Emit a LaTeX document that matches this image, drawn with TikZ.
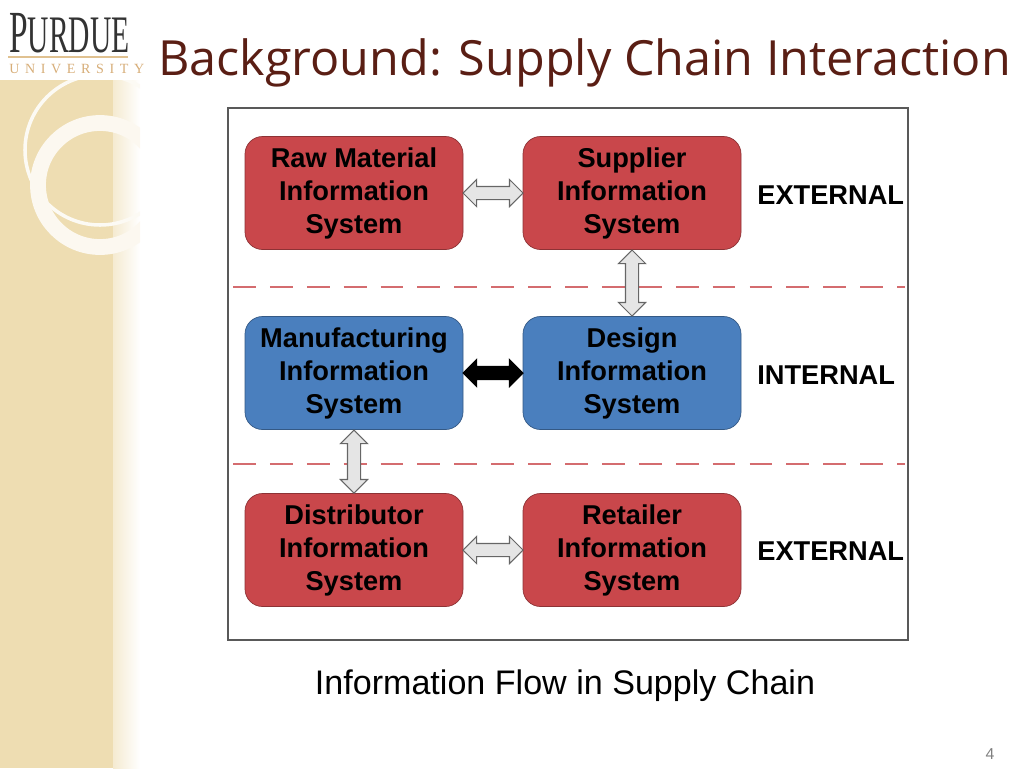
\documentclass[tikz,border=0pt]{standalone}
\usepackage{fontspec}
\setmainfont{Liberation Sans}
\newfontfamily\titlefont{Open Sans}
\newfontfamily\logofont{Liberation Serif}
\usetikzlibrary{positioning,calc,shapes.arrows}
\definecolor{boxred}{HTML}{C9474B}
\definecolor{boxblue}{HTML}{4A7FBE}
\definecolor{sidebeige}{HTML}{EEDDB2}
\definecolor{titlebrown}{HTML}{5A1E14}
\tikzset{
  sysbox/.style={draw=#1!70!black,fill=#1,rounded corners=10pt,minimum width=218*0.02cm,minimum height=113*0.02cm,
    align=center,font=\fontsize{15.5}{18.8}\selectfont\bfseries,inner sep=0pt},
  flowarrow/.style={double arrow,draw=gray!80!black,fill=gray!20,minimum height=60*0.02cm,
    text height=0.24cm,text depth=0pt,text width=0pt,
    double arrow head extend=0.14cm,inner sep=0pt,line width=0.6pt},
  vflowarrow/.style={flowarrow,shape border rotate=90,text height=0pt,text width=0.24cm},
  zonelabel/.style={anchor=west,font=\fontsize{15.5}{18}\selectfont\bfseries,inner sep=0pt},
}
\begin{document}
\begin{tikzpicture}[x=0.02cm,y=-0.02cm]
		\useasboundingbox (0,0) rectangle (1024,768);
		% sidebar
		\fill[sidebeige] (0,80) rectangle (113,768);
		\shade[left color=sidebeige!60,right color=white] (113,80) rectangle (140,768);
		\begin{scope}
		\clip (0,80) rectangle (140,768);
		\draw[white!85!sidebeige,line width=2pt] (100,150) circle (75);
		\draw[white!80!sidebeige,line width=9pt] (100,185) circle (62);
		\end{scope}
		% logo
		\node[anchor=base west,inner sep=0pt,xscale=0.56,text=black!80,font=\logofont\fontsize{34}{34}\selectfont] (purdue) at (9,52) {P\fontsize{30}{30}\selectfont URDUE};
		\draw[sidebeige!70!brown,line width=0.8pt] (8,57) -- (128,57);
		\node[anchor=base west,inner sep=0pt,font=\logofont\fontsize{8}{8}\selectfont,text=sidebeige!50!brown] (univ) at (9,73) {U\hspace{3.2pt}N\hspace{3.2pt}I\hspace{3.2pt}V\hspace{3.2pt}E\hspace{3.2pt}R\hspace{3.2pt}S\hspace{3.2pt}I\hspace{3.2pt}T\hspace{3.2pt}Y};
		% title
		\node[anchor=base west,inner sep=0pt,text=titlebrown,font=\titlefont\fontsize{27.6}{30}\selectfont] (title) at (158,75) {Background: Supply Chain Interaction};
		% frame
		\draw[gray!70!black,line width=1.2pt] (228,108) rectangle (908,640);
		% zone separators
		\draw[boxred!80,dashed,dash pattern=on 13pt off 8pt,line width=1.1pt] (233,287) -- (905,287);
		\draw[boxred!80,dashed,dash pattern=on 13pt off 8pt,line width=1.1pt] (233,464) -- (905,464);
		% systems
		\node[sysbox=boxred] (raw) at (354,193) {Raw Material\\Information\\System};
		\node[sysbox=boxred] (supplier) at (632,193) {Supplier\\Information\\System};
		\node[sysbox=boxblue] (manuf) at (354,373) {Manufacturing\\Information\\System};
		\node[sysbox=boxblue] (design) at (632,373) {Design\\Information\\System};
		\node[sysbox=boxred] (distrib) at (354,550) {Distributor\\Information\\System};
		\node[sysbox=boxred] (retail) at (632,550) {Retailer\\Information\\System};
		% zones
		\node[zonelabel] (ext1) at (757,195) {EXTERNAL};
		\node[zonelabel] (int) at (757,375) {INTERNAL};
		\node[zonelabel] (ext2) at (757,551) {EXTERNAL};
		% flows
		\node[flowarrow] (a1) at ($(raw.east)!0.5!(supplier.west)$) {};
		\node[vflowarrow,minimum height=66*0.02cm] (a2) at ($(supplier.south)!0.5!(design.north)$) {};
		\node[flowarrow,draw=black,fill=black] (a3) at ($(manuf.east)!0.5!(design.west)$) {};
		\node[vflowarrow,minimum height=63*0.02cm] (a4) at ($(manuf.south)!0.5!(distrib.north)$) {};
		\node[flowarrow] (a5) at ($(distrib.east)!0.5!(retail.west)$) {};
		% caption
		\node[font=\fontsize{19.4}{22}\selectfont] (caption) at (565,686) {Information Flow in Supply Chain};
		\node[text=gray,font=\fontsize{9}{10}\selectfont] (pagenum) at (990,754) {4};
	\end{tikzpicture}
\end{document}
